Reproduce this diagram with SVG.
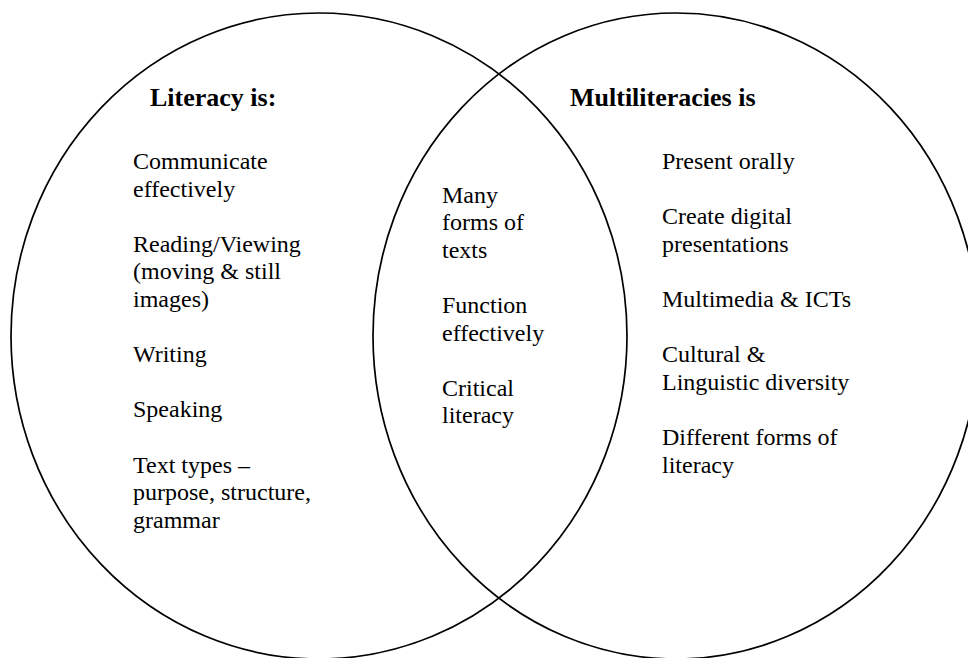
<svg xmlns="http://www.w3.org/2000/svg" width="968" height="658" viewBox="0 0 968 658">
<style>
.c{fill:none;stroke:#000;stroke-width:1.7}
text{font-family:"Liberation Serif","Times New Roman",serif;font-size:24px;fill:#000}
.h{font-weight:bold;font-size:26px}
</style>
<rect width="968" height="658" fill="#fff"/>
<g id="connectors"></g>
<g id="literacy">
<ellipse class="c" cx="319" cy="336" rx="308" ry="323"/>
<text class="h" x="150" y="106">Literacy is:</text>
<text x="133" y="169">Communicate</text>
<text x="133" y="196.6">effectively</text>
<text x="133" y="251.8">Reading/Viewing</text>
<text x="133" y="279.4">(moving &amp; still</text>
<text x="133" y="307">images)</text>
<text x="133" y="362.2">Writing</text>
<text x="133" y="417.4">Speaking</text>
<text x="133" y="472.6">Text types –</text>
<text x="133" y="500.2">purpose, structure,</text>
<text x="133" y="527.8">grammar</text>
</g>
<g id="multiliteracies">
<ellipse class="c" cx="676" cy="336" rx="303" ry="323"/>
<text class="h" x="570" y="106">Multiliteracies is</text>
<text x="662" y="169">Present orally</text>
<text x="662" y="224.2">Create digital</text>
<text x="662" y="251.8">presentations</text>
<text x="662" y="307">Multimedia &amp; ICTs</text>
<text x="662" y="362.2">Cultural &amp;</text>
<text x="662" y="389.8">Linguistic diversity</text>
<text x="662" y="445">Different forms of</text>
<text x="662" y="472.6">literacy</text>
</g>
<g id="overlap">
<text x="442" y="202.5">Many</text>
<text x="442" y="230.1">forms of</text>
<text x="442" y="257.7">texts</text>
<text x="442" y="312.9">Function</text>
<text x="442" y="340.5">effectively</text>
<text x="442" y="395.7">Critical</text>
<text x="442" y="423.3">literacy</text>
</g>
</svg>
